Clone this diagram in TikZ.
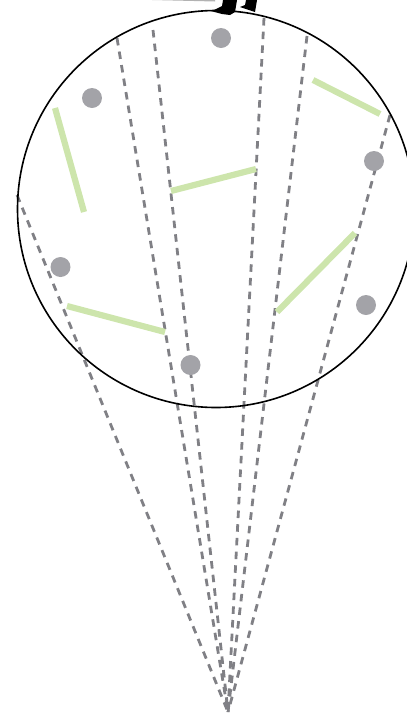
\documentclass[tikz,border=0pt]{standalone}
\definecolor{dotgray}{HTML}{A3A3A8}
\definecolor{raygray}{HTML}{808085}
\definecolor{leaf}{HTML}{CDE5AC}
\tikzset{
  ray/.style={draw=raygray,line width=2.8pt,dash pattern=on 7.5pt off 6.2pt},
  dotnode/.style={circle,fill=dotgray,inner sep=0pt,minimum size=20pt},
  bar/.style={draw=leaf,line width=6.2pt},
  rim/.style={draw=black,line width=1.6pt}
}
\begin{document}
\begin{tikzpicture}[x=1pt,y=-1pt]
\useasboundingbox (0,0) rectangle (407,713);
\clip (0,0) rectangle (407,713);
\coordinate (apex) at (228,712);
\coordinate (r1) at (17,195);
\coordinate (r2) at (117,38);
\coordinate (r3) at (153,30);
\coordinate (r4) at (264,18);
\coordinate (r5) at (307,36);
\coordinate (r6) at (390,115);
\foreach \e in {r1,r2,r3,r4,r5,r6} \draw[ray] (\e) -- (apex);
\draw[rim] (216,209) circle (198.5);
\draw[bar] (55,108) -- (84,212);
\draw[bar] (171,191) -- (256,169);
\draw[bar] (313,80) -- (380,114);
\draw[bar] (277,312) -- (355,233);
\draw[bar] (67,306) -- (165,332);
\node[dotnode] (d1) at (221,38) {};
\node[dotnode] (d2) at (92,98) {};
\node[dotnode] (d3) at (374,161) {};
\node[dotnode] (d4) at (60.5,267) {};
\node[dotnode] (d5) at (366,305) {};
\node[dotnode] (d6) at (190.5,365) {};
\fill[black] (207,10) -- (214,10) -- (222,6) -- (223,0) -- (237,0) -- (235,12) -- (230,15) -- (222,14) -- cycle;
\fill[black] (240,7) -- (245,5) -- (246,0) -- (257,0) -- (255,12) -- cycle;
\fill[gray!60] (152,0) -- (215,0) -- (215,1.5) -- cycle;
\end{tikzpicture}
\end{document}
